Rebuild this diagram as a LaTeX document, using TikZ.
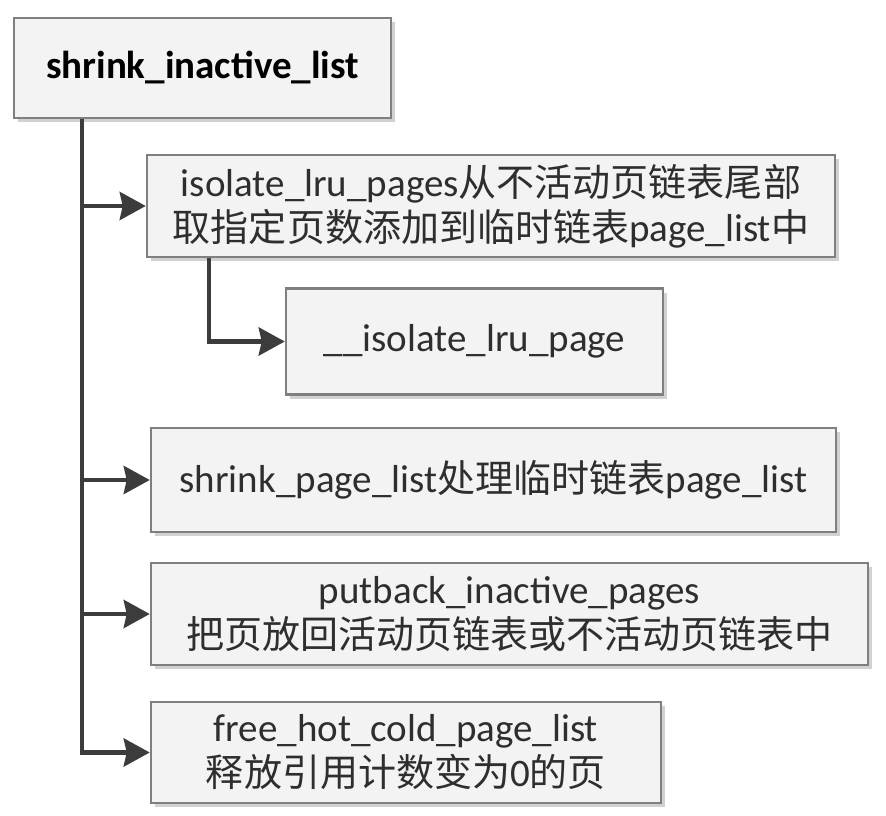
\documentclass[tikz,border=0pt]{standalone}
\usepackage{fontspec}
\setmainfont{Carlito}
\newfontfamily\cjk[Scale=0.975]{Noto Sans CJK SC}
\usetikzlibrary{arrows.meta,shadows}

\definecolor{boxline}{HTML}{7F7F7F}
\definecolor{boxfill}{HTML}{F3F3F3}
\definecolor{linkcol}{HTML}{3C3C3C}
\definecolor{txtcol}{HTML}{2E2E2E}
\newcommand{\zh}[1]{{\cjk #1}}

\tikzset{
  func/.style={draw=boxline, line width=2.5pt, fill=boxfill, text=txtcol,
    align=center, inner sep=0pt, font=\fontsize{39}{45}\selectfont,
    drop shadow={shadow xshift=4pt, shadow yshift=-4pt, opacity=0.18, fill=black}},
  link/.style={draw=linkcol, line width=4.5pt,
    -{Stealth[length=26pt,width=28pt,inset=3pt]}}
}

\begin{document}
\begin{tikzpicture}[x=1pt,y=-1pt]
    \useasboundingbox (0,0) rectangle (886,816);
    \node[func, minimum width=377pt, minimum height=100pt, font=\fontsize{39}{45}\selectfont\bfseries, text=black]
        (shrink) at (202.5,68) {shrink\_inactive\_list};
    \node[func, minimum width=688pt, minimum height=102pt]
        (isolate) at (491,206) {isolate\_lru\_pages\zh{从不活动页链表尾部}\\\zh{取指定页数添加到临时链表}page\_list\zh{中}};
    \node[func, minimum width=377pt, minimum height=106pt]
        (lrupage) at (474.5,341.5) {\_\_isolate\_lru\_page};
    \node[func, minimum width=685pt, minimum height=104pt]
        (pagelist) at (493.5,480) {shrink\_page\_list\zh{处理临时链表}page\_list};
    \node[func, minimum width=717pt, minimum height=102pt]
        (putback) at (509.5,614) {putback\_inactive\_pages\\\zh{把页放回活动页链表或不活动页链表中}};
    \node[func, minimum width=510pt, minimum height=101pt]
        (freecold) at (406,752.5) {free\_hot\_cold\_page\_list\\\zh{释放引用计数变为}0\zh{的页}};
    % calls from shrink_inactive_list
    \draw[link] ([xshift=69pt]shrink.south west) |- (isolate.west);
    \draw[link] ([xshift=69pt]shrink.south west) |- (pagelist.west);
    \draw[link] ([xshift=69pt]shrink.south west) |- (putback.west);
    \draw[link] ([xshift=69pt]shrink.south west) |- (freecold.west);
    % call from isolate_lru_pages
    \draw[link] ([xshift=63pt]isolate.south west) |- (lrupage.west);
\end{tikzpicture}
\end{document}
